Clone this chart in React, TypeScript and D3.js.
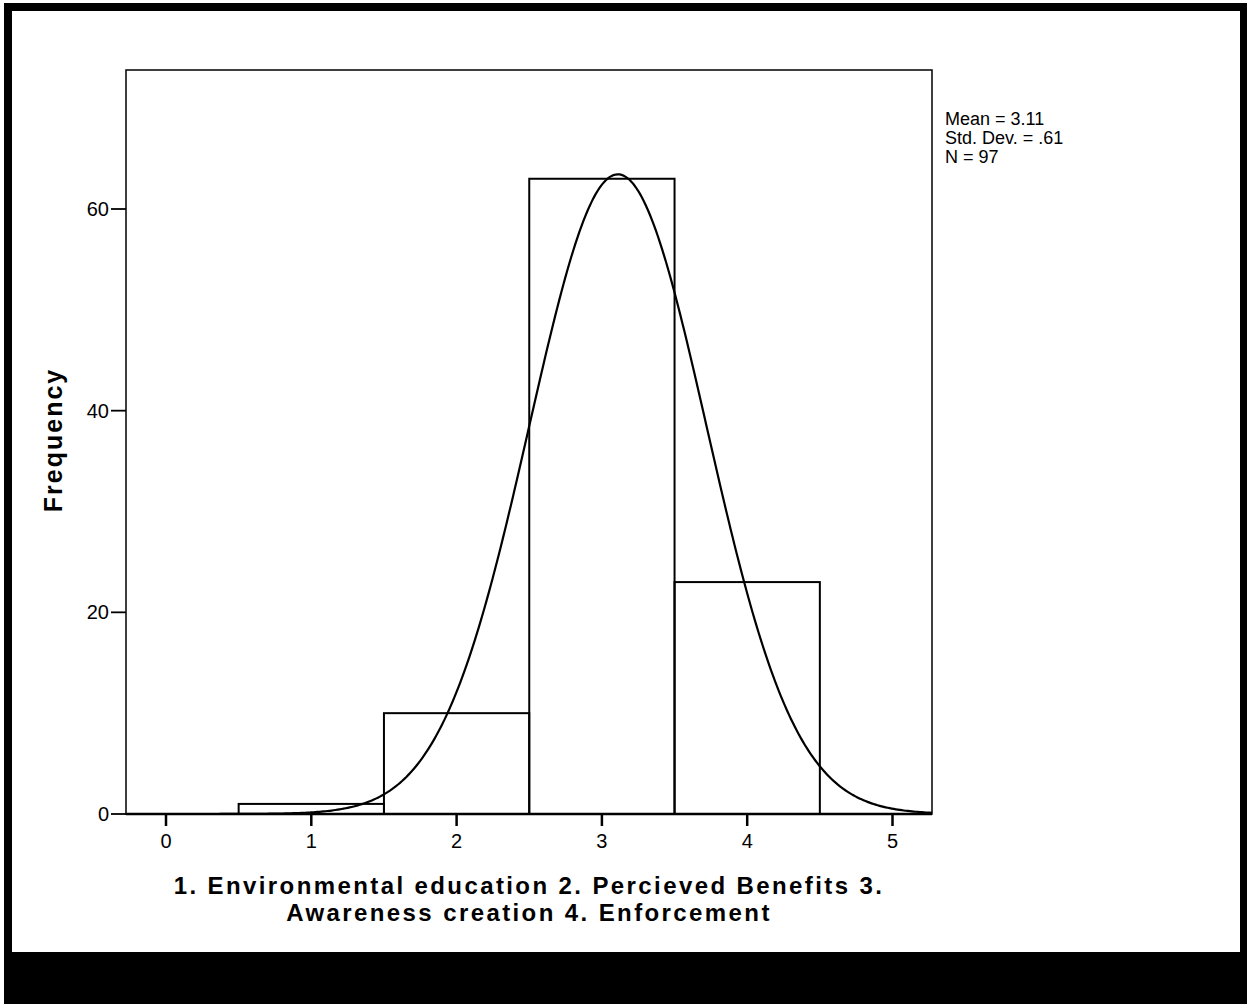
import React from 'react';
import * as d3 from 'd3';

// histogram bins (midpoint categories) and their counts
const binCenters = [1, 2, 3, 4];
const binCounts = [1, 10, 63, 23];
const yTicks = [0, 20, 40, 60];
const xTicks = [0, 1, 2, 3, 4, 5];

const stats = { mean: 3.11, sd: 0.61, n: 97 };
const statLines = ['Mean = 3.11', 'Std. Dev. = .61', 'N = 97'];
const xTitleLines = ['1. Environmental education 2. Percieved Benefits 3.', 'Awareness creation 4. Enforcement'];

const W = 1251;
const H = 1007;
const plot = { left: 126, top: 70, right: 932, bottom: 814 };

export default function App() {
    const x = d3.scaleLinear().domain([0, 5]).range([166, 892.5]);
    const y = d3.scaleLinear().domain([0, 60]).range([plot.bottom, 209]);
    const xMin = x.invert(plot.left);
    const xMax = x.invert(plot.right);

    // normal curve scaled to counts (bin width 1)
    const curveXs = d3.range(0, 401).map((i) => xMin + (xMax - xMin) * i / 400);
    const dens = (v: number) =>
        stats.n / (stats.sd * Math.sqrt(2 * Math.PI)) * Math.exp(-0.5 * ((v - stats.mean) / stats.sd) ** 2);
    const line = d3.line<number>().x((v) => x(v)).y((v) => y(dens(v)));

    const font = 'Arial, "Liberation Sans", sans-serif';

    return (
        <svg width={W} height={H} style={{ position: 'absolute', left: 0, top: 0, background: '#fff' }}>
            {/* outer black frame and bottom band */}
            <rect x={4} y={3} width={1243} height={1001} fill="#000" />
            <rect x={12} y={11} width={1228} height={941} fill="#fff" />

            {/* plot frame */}
            <rect x={plot.left} y={plot.top} width={plot.right - plot.left} height={plot.bottom - plot.top}
                fill="none" stroke="#000" strokeWidth={1.5} />

            {/* bars */}
            {binCenters.map((c, i) => (
                <rect key={c} x={x(c - 0.5)} y={y(binCounts[i])} width={x(c + 0.5) - x(c - 0.5)}
                    height={y(0) - y(binCounts[i])} fill="none" stroke="#000" strokeWidth={2} />
            ))}

            {/* normal curve */}
            <path d={line(curveXs) || ''} fill="none" stroke="#000" strokeWidth={2.2} />

            {/* baseline */}
            <line x1={plot.left} x2={plot.right} y1={y(0)} y2={y(0)} stroke="#000" strokeWidth={2.5} />

            {/* y axis */}
            {yTicks.map((t) => (
                <g key={t}>
                    <line x1={plot.left - 15} x2={plot.left} y1={y(t)} y2={y(t)} stroke="#000" strokeWidth={1.8} />
                    <text x={plot.left - 17} y={y(t) + 7} textAnchor="end" fontFamily={font} fontSize={20}>{t}</text>
                </g>
            ))}
            {/* x axis */}
            {xTicks.map((t) => (
                <g key={t}>
                    <line x1={x(t)} x2={x(t)} y1={plot.bottom} y2={plot.bottom + 12} stroke="#000" strokeWidth={2.5} />
                    <text x={x(t)} y={plot.bottom + 34} textAnchor="middle" fontFamily={font} fontSize={20}>{t}</text>
                </g>
            ))}

            {/* axis titles */}
            <text transform={`translate(62,${(plot.top + plot.bottom) / 2 - 2}) rotate(-90)`} textAnchor="middle"
                fontFamily={font} fontSize={25} fontWeight="bold" letterSpacing={2}>Frequency</text>
            {xTitleLines.map((s, i) => (
                <text key={i} x={(plot.left + plot.right) / 2} y={894 + i * 27} textAnchor="middle"
                    fontFamily={font} fontSize={24} fontWeight="bold" letterSpacing={2.4}>{s}</text>
            ))}

            {/* stats */}
            {statLines.map((s, i) => (
                <text key={i} x={945} y={125 + i * 19} fontFamily={font} fontSize={18}>{s}</text>
            ))}
        </svg>
    );
}
